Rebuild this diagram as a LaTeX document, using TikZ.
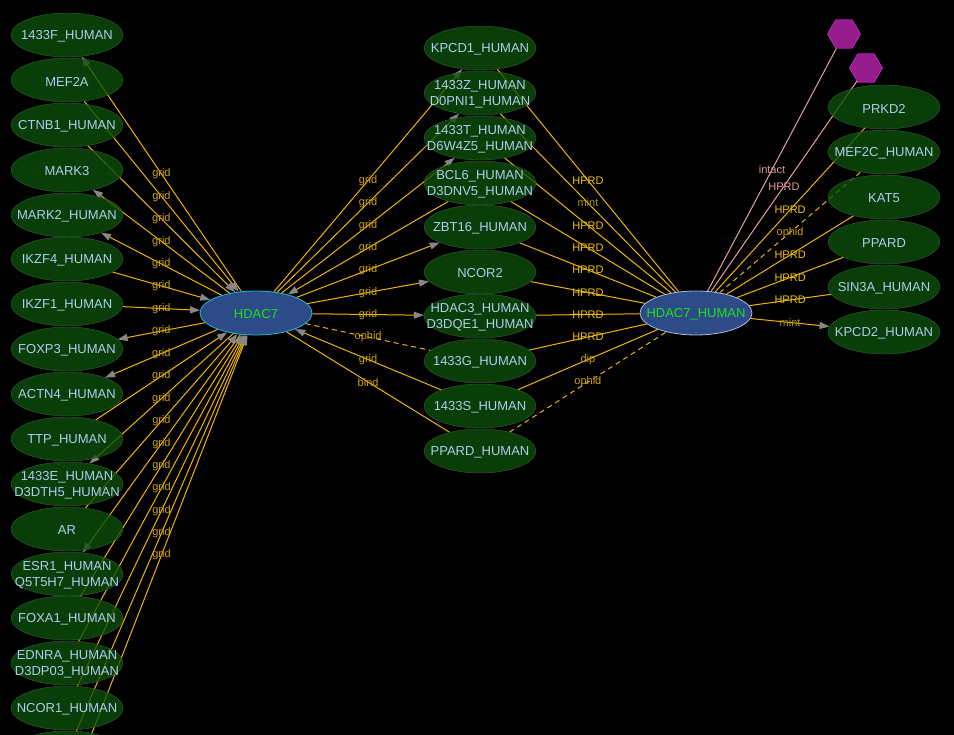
\documentclass[tikz,border=0pt]{standalone}
\usepackage{fontspec}
\setmainfont{Liberation Sans}
\usetikzlibrary{shapes.geometric, arrows.meta}

\definecolor{nodegreen}{RGB}{12,80,12}
\definecolor{nodeline}{RGB}{55,95,55}
\definecolor{nodetext}{RGB}{175,205,240}
\definecolor{hubblue}{RGB}{45,75,135}
\definecolor{hubtext}{RGB}{30,225,30}
\definecolor{hubline}{RGB}{30,185,215}
\definecolor{hubline2}{RGB}{175,185,225}
\definecolor{linkgold}{RGB}{240,180,0}
\definecolor{lblgold}{RGB}{205,165,0}
\definecolor{hprdgold}{RGB}{240,195,10}
\definecolor{mintolive}{RGB}{172,150,10}
\definecolor{pinkline}{RGB}{230,160,160}
\definecolor{pinktext}{RGB}{220,155,155}
\definecolor{hexfill}{RGB}{150,30,140}
\definecolor{hexline}{RGB}{255,45,255}
\definecolor{arrowgray}{RGB}{135,135,135}

\pgfdeclarelayer{bg}
\pgfdeclarelayer{edges}
\pgfsetlayers{bg,edges,main}

\tikzset{
  ptext/.style={text=nodetext, text opacity=1, fill=none, draw=none, inner sep=0pt,
    align=center, yshift=-1.5pt, font=\fontsize{13}{16}\selectfont},
  prot/.style={ellipse, draw=nodeline, fill=nodegreen, fill opacity=0.78,
    minimum width=112pt, minimum height=44pt, inner sep=0pt, label={[ptext]center:#1}},
  hub/.style={ellipse, fill=hubblue, line width=0.8pt,
    minimum width=112pt, minimum height=44pt, inner sep=0pt, label={[ptext, text=hubtext]center:#1}},
  hexa/.style={regular polygon, regular polygon sides=6, minimum size=33pt, inner sep=0pt,
    draw=hexline, fill=hexfill},
  inter/.style={draw=linkgold, line width=1pt},
  pinkinter/.style={draw=pinkline, line width=1pt},
  pointed/.style={-{Triangle[length=10pt, width=7pt, color=arrowgray]}},
  broken/.style={dash pattern=on 5pt off 4pt},
  lbl/.style={text=lblgold, font=\fontsize{11}{12}\selectfont, inner sep=0pt},
}

\begin{document}
\begin{tikzpicture}[x=1pt, y=-1pt]

     \useasboundingbox (0,0) rectangle (954,735);
     \begin{pgfonlayer}{bg}
       \fill[black] (0,0) rectangle (954,735);
     \end{pgfonlayer}

     % hubs
     \node[hub=HDAC7, draw=hubline] (hdac7) at (256,313) {};
     \node[hub=HDAC7\_HUMAN, draw=hubline2] (hdac7h) at (696,313) {};

     % left column
     \node[prot=1433F\_HUMAN] (p1433f) at (67,35) {};
     \node[prot=MEF2A] (mef2a) at (67,80) {};
     \node[prot=CTNB1\_HUMAN] (ctnb1) at (67,125) {};
     \node[prot=MARK3] (mark3) at (67,170) {};
     \node[prot=MARK2\_HUMAN] (mark2) at (67,215) {};
     \node[prot=IKZF4\_HUMAN] (ikzf4) at (67,259) {};
     \node[prot=IKZF1\_HUMAN] (ikzf1) at (67,304) {};
     \node[prot=FOXP3\_HUMAN] (foxp3) at (67,349) {};
     \node[prot=ACTN4\_HUMAN] (actn4) at (67,394) {};
     \node[prot=TTP\_HUMAN] (ttp) at (67,439) {};
     \node[prot={1433E\_HUMAN\\D3DTH5\_HUMAN}] (p1433e) at (67,484) {};
     \node[prot=AR] (ar) at (67,529) {};
     \node[prot={ESR1\_HUMAN\\Q5T5H7\_HUMAN}] (esr1) at (67,574) {};
     \node[prot=FOXA1\_HUMAN] (foxa1) at (67,618) {};
     \node[prot={EDNRA\_HUMAN\\D3DP03\_HUMAN}] (ednra) at (67,663) {};
     \node[prot=NCOR1\_HUMAN] (ncor1) at (67,708) {};
     \node[prot={}] (lowa) at (67,753) {};
     \node[prot={}] (lowb) at (67,797) {};

     % middle column
     \node[prot=KPCD1\_HUMAN] (kpcd1) at (480,48) {};
     \node[prot={1433Z\_HUMAN\\D0PNI1\_HUMAN}] (p1433z) at (480,93) {};
     \node[prot={1433T\_HUMAN\\D6W4Z5\_HUMAN}] (p1433t) at (480,138) {};
     \node[prot={BCL6\_HUMAN\\D3DNV5\_HUMAN}] (bcl6) at (480,183) {};
     \node[prot=ZBT16\_HUMAN] (zbt16) at (480,227) {};
     \node[prot=NCOR2] (ncor2) at (480,272) {};
     \node[prot={HDAC3\_HUMAN\\D3DQE1\_HUMAN}] (hdac3) at (480,316) {};
     \node[prot=1433G\_HUMAN] (p1433g) at (480,361) {};
     \node[prot=1433S\_HUMAN] (p1433s) at (480,406) {};
     \node[prot=PPARD\_HUMAN] (ppardh) at (480,451) {};

     % right column
     \node[hexa] (hexone) at (844,34) {};
     \node[hexa] (hextwo) at (866,68) {};
     \node[prot=PRKD2] (prkd2) at (884,107) {};
     \node[prot=MEF2C\_HUMAN] (mef2c) at (884,152) {};
     \node[prot=KAT5] (kat5) at (884,197) {};
     \node[prot=PPARD] (ppard) at (884,242) {};
     \node[prot=SIN3A\_HUMAN] (sin3a) at (884,287) {};
     \node[prot=KPCD2\_HUMAN] (kpcd2) at (884,332) {};

     \begin{pgfonlayer}{edges}
     % HDAC7 - left column
     \draw[inter, pointed] (hdac7) -- node[lbl]{grid} (p1433f);
     \draw[inter, pointed] (mef2a) -- node[lbl]{grid} (hdac7);
     \draw[inter, pointed] (ctnb1) -- node[lbl]{grid} (hdac7);
     \draw[inter, pointed] (hdac7) -- node[lbl]{grid} (mark3);
     \draw[inter, pointed] (hdac7) -- node[lbl]{grid} (mark2);
     \draw[inter, pointed] (ikzf4) -- node[lbl]{grid} (hdac7);
     \draw[inter, pointed] (ikzf1) -- node[lbl]{grid} (hdac7);
     \draw[inter, pointed] (hdac7) -- node[lbl]{grid} (foxp3);
     \draw[inter, pointed] (hdac7) -- node[lbl]{grid} (actn4);
     \draw[inter, pointed] (ttp) -- node[lbl]{grid} (hdac7);
     \draw[inter, pointed] (hdac7) -- node[lbl]{grid} (p1433e);
     \draw[inter, pointed] (ar) -- node[lbl]{grid} (hdac7);
     \draw[inter, pointed] (hdac7) -- node[lbl]{grid} (esr1);
     \draw[inter, pointed] (foxa1) -- node[lbl]{grid} (hdac7);
     \draw[inter, pointed] (ednra) -- node[lbl]{grid} (hdac7);
     \draw[inter, pointed] (ncor1) -- node[lbl]{grid} (hdac7);
     \draw[inter, pointed] (lowa) -- node[lbl]{grid} (hdac7);
     \draw[inter, pointed] (lowb) -- node[lbl]{grid} (hdac7);

     % HDAC7 - middle column
     \draw[inter, pointed] (hdac7) -- node[lbl]{grid} (kpcd1);
     \draw[inter, pointed] (hdac7) -- node[lbl]{grid} (p1433z);
     \draw[inter, pointed] (hdac7) -- node[lbl]{grid} (p1433t);
     \draw[inter, pointed] (bcl6) -- node[lbl]{grid} (hdac7);
     \draw[inter, pointed] (hdac7) -- node[lbl]{grid} (zbt16);
     \draw[inter, pointed] (hdac7) -- node[lbl]{grid} (ncor2);
     \draw[inter, pointed] (hdac7) -- node[lbl]{grid} (hdac3);
     \draw[inter, broken] (hdac7) -- node[lbl]{ophid} (p1433g);
     \draw[inter, pointed] (p1433s) -- node[lbl]{grid} (hdac7);
     \draw[inter] (hdac7) -- node[lbl]{bind} (ppardh);

     % middle column - HDAC7_HUMAN
     \draw[inter] (kpcd1) -- node[lbl, text=hprdgold]{HPRD} (hdac7h);
     \draw[inter] (p1433z) -- node[lbl, text=mintolive]{mint} (hdac7h);
     \draw[inter] (p1433t) -- node[lbl, text=hprdgold]{HPRD} (hdac7h);
     \draw[inter] (bcl6) -- node[lbl, text=hprdgold]{HPRD} (hdac7h);
     \draw[inter] (zbt16) -- node[lbl, text=hprdgold]{HPRD} (hdac7h);
     \draw[inter] (ncor2) -- node[lbl, text=hprdgold]{HPRD} (hdac7h);
     \draw[inter] (hdac3) -- node[lbl, text=hprdgold]{HPRD} (hdac7h);
     \draw[inter] (p1433g) -- node[lbl, text=hprdgold]{HPRD} (hdac7h);
     \draw[inter] (p1433s) -- node[lbl]{dip} (hdac7h);
     \draw[inter, broken] (ppardh) -- node[lbl]{ophid} (hdac7h);

     % HDAC7_HUMAN - right column
     \draw[pinkinter] (hdac7h) -- node[lbl, text=pinktext]{intact} (hexone);
     \draw[pinkinter] (hdac7h) -- node[lbl, text=pinktext]{HPRD} (hextwo);
     \draw[inter] (hdac7h) -- node[lbl, text=hprdgold]{HPRD} (prkd2);
     \draw[inter, broken] (hdac7h) -- node[lbl]{ophid} (mef2c);
     \draw[inter] (hdac7h) -- node[lbl, text=hprdgold]{HPRD} (kat5);
     \draw[inter] (hdac7h) -- node[lbl, text=hprdgold]{HPRD} (ppard);
     \draw[inter] (hdac7h) -- node[lbl, text=hprdgold]{HPRD} (sin3a);
     \draw[inter, pointed] (hdac7h) -- node[lbl, text=mintolive]{mint} (kpcd2);
     \end{pgfonlayer}

\end{tikzpicture}
\end{document}
